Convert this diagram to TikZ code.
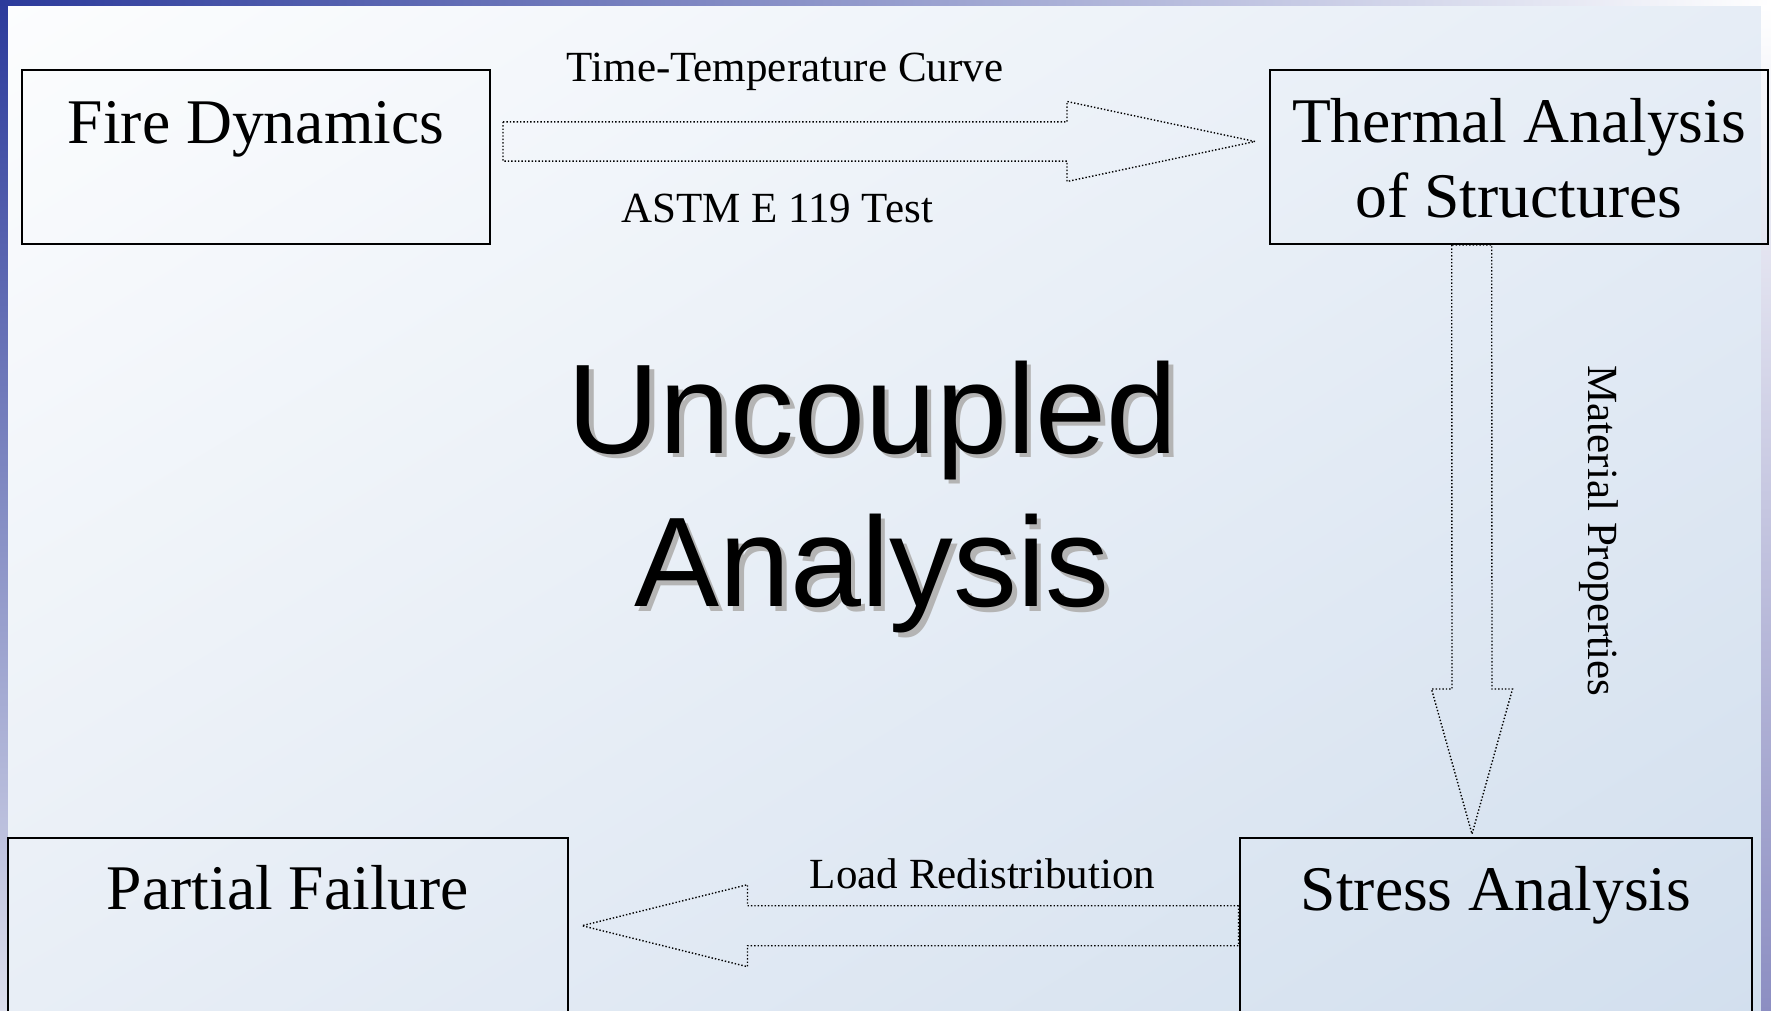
\documentclass[tikz,border=0pt]{standalone}
\usepackage{fontspec}
\setmainfont{Liberation Serif}
\newfontfamily\bigsans{Liberation Sans}
\usetikzlibrary{calc,shadings}
\definecolor{bgTL}{HTML}{FCFDFE}
\definecolor{bgTR}{HTML}{E6EDF6}
\definecolor{bgBL}{HTML}{E8EEF6}
\definecolor{bgBR}{HTML}{D2DFEE}
\definecolor{barblue}{HTML}{2B3A9B}
\definecolor{barmid}{HTML}{8A91C4}
\definecolor{barlow}{HTML}{DCDEEC}
\definecolor{barright}{HTML}{8C8EC2}
\definecolor{shadowgray}{HTML}{B4B4B4}
\begin{document}
\begin{tikzpicture}[x=0.5pt,y=-0.5pt,
  box/.style={draw=black,line width=1pt,inner sep=0pt,outer sep=0pt},
  boxtext/.style={font=\fontsize{31.8}{37.5}\selectfont,inner sep=0pt,anchor=base},
  labeltext/.style={font=\fontsize{21.5}{25}\selectfont,inner sep=0pt,anchor=base},
  blockarrow/.style={draw=black,line width=0.7pt,densely dotted,line join=miter},
  titletext/.style={font=\bigsans\fontsize{63.8}{76}\selectfont,inner sep=0pt,anchor=base},
  titleshadow/.style={titletext,text=shadowgray}]
\useasboundingbox (0,0) rectangle (1771,1011);
\clip (0,0) rectangle (1771,1011);
% background
\shade[upper left=bgTL, upper right=bgTR, lower left=bgBL, lower right=bgBR] (0,0) rectangle (1771,1011);
\shade[top color=barblue, middle color=barmid, bottom color=barlow] (0,0) rectangle (7.7,1011);
\shade[left color=barblue, middle color=barmid!40!white, right color=white] (0,0) rectangle (1771,6);
\shade[top color=white, bottom color=barright] (1761,6) rectangle (1771,1011);

% boxes
\node[box,minimum width=234pt,minimum height=87pt] (fire) at (256,157) {};
\node[box,minimum width=249pt,minimum height=87pt] (therm) at (1519,157) {};
\node[box,minimum width=280pt,minimum height=131pt] (partial) at (288,969) {};
\node[box,minimum width=256pt,minimum height=131pt] (stress) at (1496,969) {};

% box texts
\node[boxtext] (fireT) at ($(fire.north)+(0,73)$) {Fire Dynamics};
\node[boxtext] (thermT1) at ($(therm.north)+(0,72)$) {Thermal Analysis};
\node[boxtext] (thermT2) at ($(therm.north)+(0,147)$) {of Structures};
\node[boxtext] (partialT) at ($(partial.north)+(0,71)$) {Partial Failure};
\node[boxtext] (stressT) at ($(stress.north)+(0,72)$) {Stress Analysis};

% block arrow: fire -> thermal
\coordinate (r0) at ($(fire.north east)+(13,71.5)$);
\coordinate (r1) at ($(therm.north west)+(-15,71.5)$);
\draw[blockarrow] ($(r0)+(0,-19.6)$) -- ($(r1)+(-188,-19.6)$) -- ($(r1)+(-188,-40)$) -- (r1)
  -- ($(r1)+(-188,40)$) -- ($(r1)+(-188,19.6)$) -- ($(r0)+(0,19.6)$) -- cycle;

% block arrow: thermal -> stress
\coordinate (d0) at ($(therm.south west)+(201.7,1)$);
\coordinate (d1) at ($(stress.north west)+(232,-4)$);
\draw[blockarrow] ($(d0)+(-20,0)$) -- ($(d1)+(-20,-145)$) -- ($(d1)+(-40.5,-145)$) -- (d1)
  -- ($(d1)+(40.5,-145)$) -- ($(d1)+(20,-145)$) -- ($(d0)+(20,0)$) -- cycle;

% block arrow: stress -> partial
\coordinate (l0) at ($(stress.north west)+(-1.5,87.7)$);
\coordinate (l1) at ($(partial.north east)+(14,87.7)$);
\draw[blockarrow] ($(l0)+(0,-20)$) -- ($(l1)+(165.5,-20)$) -- ($(l1)+(165.5,-41)$) -- (l1)
  -- ($(l1)+(165.5,41)$) -- ($(l1)+(165.5,20)$) -- ($(l0)+(0,20)$) -- cycle;

% arrow labels
\node[labeltext] (ttc) at (785,81.7) {Time-Temperature Curve};
\node[labeltext] (astm) at (777,222.3) {ASTM E 119 Test};
\node[labeltext] (load) at (982.5,888.3) {Load Redistribution};
\node[labeltext,anchor=center,rotate=-90] (mat) at (1599,531) {Material Properties};

% title with shadow
\node[titleshadow] (titleS1) at (877.1,457.8) {Uncoupled};
\node[titleshadow] (titleS2) at (876.5,611.2) {Analysis};
\node[titletext] (title1) at (872.6,453.3) {Uncoupled};
\node[titletext] (title2) at (872,606.7) {Analysis};
\end{tikzpicture}
\end{document}
